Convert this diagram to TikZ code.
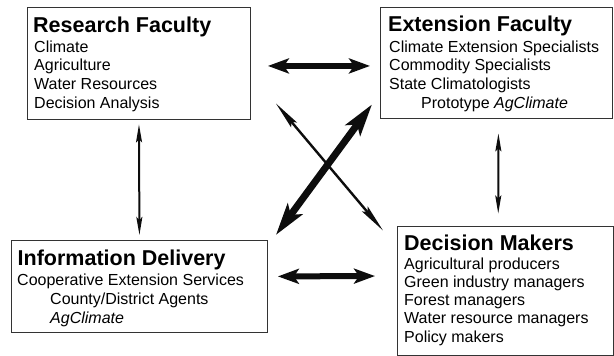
\documentclass[tikz,border=0pt]{standalone}
\usepackage{fontspec}
\setmainfont{Liberation Sans}
\usetikzlibrary{arrows.meta}
\begin{document}
\begin{tikzpicture}[x=1pt,y=-1pt,
  box/.style={draw=black!80, line width=0.9pt, inner sep=0pt, anchor=north west},
  ttl/.style={anchor=base west, inner sep=0pt, font=\fontsize{21.5}{24}\selectfont\bfseries},
  % body text is placed by the baseline of its last line
  txt/.style={anchor=base west, inner sep=0pt, align=left, font=\fontsize{16}{#1}\selectfont},
  txt/.default=18.9,
  bigarrow/.style={line width=6pt, draw=black!95,
    {Stealth[length=21pt,width=15pt,inset=5pt]}-{Stealth[length=21pt,width=15pt,inset=5pt]}},
  diagthick/.style={line width=7pt, draw=black!95,
    {Stealth[length=32pt,width=18pt,inset=7pt]}-{Stealth[length=32pt,width=18pt,inset=7pt]}},
  diagthin/.style={line width=2.4pt, draw=black!95,
    {Stealth[length=28pt,width=7.5pt,inset=4pt]}-{Stealth[length=28pt,width=7.5pt,inset=4pt]}},
  vthin/.style={line width=2pt, draw=black!95,
    {Stealth[length=18pt,width=6pt,inset=3pt]}-{Stealth[length=18pt,width=6pt,inset=3pt]}}
]
\useasboundingbox (0,0) rectangle (614,356);

% boxes
\node[box, minimum width=223pt, minimum height=112pt] (rf) at (27,6.5) {};
\node[box, minimum width=232pt, minimum height=111pt] (ef) at (380,6.5) {};
\node[box, minimum width=256pt, minimum height=92pt] (id) at (11,240) {};
\node[box, minimum width=215.5pt, minimum height=129pt] (dm) at (397,225.5) {};

% Research Faculty
\node[ttl] (rft) at (33,32) {Research Faculty};
\node[txt] (rfb) at (34,108.7) {Climate\\Agriculture\\Water Resources\\Decision Analysis};

% Extension Faculty
\node[ttl] (eft) at (388,31.5) {Extension Faculty};
\node[txt] (efb) at (389,108.7) {Climate Extension Specialists\\Commodity Specialists\\State Climatologists\\\hspace*{32pt}Prototype \textit{AgClimate}};

% Information Delivery
\node[ttl] (idt) at (17.5,265.5) {Information Delivery};
\node[txt=19] (idb) at (17,323) {Cooperative Extension Services\\\hspace*{33pt}County/District Agents\\\hspace*{33pt}\textit{AgClimate}};

% Decision Makers
\node[ttl] (dmt) at (404,250) {Decision Makers};
\node[txt=18.3] (dmb) at (404,342.2) {Agricultural producers\\Green industry managers\\Forest managers\\Water resource managers\\Policy makers};

% connectors
\draw[bigarrow, shorten <=17pt, shorten >=10pt] ([yshift=-3pt]rf.east) -- ([yshift=-3.5pt]ef.west);
\draw[bigarrow, shorten <=10pt, shorten >=22pt] ([yshift=10pt]id.east) -- ([yshift=14.5pt]dm.west);
\draw[vthin, shorten <=5pt, shorten >=5pt] (rf.south) -- (id.north);
\draw[vthin, shorten <=15pt, shorten >=12pt] ([xshift=2pt]ef.south) -- ([xshift=-7pt]dm.north);
\draw[diagthick] ([shift={(8,-5)}]id.north east) -- ([shift={(-8,-14)}]ef.south west);
\draw[diagthin] ([shift={(25,-16)}]rf.south east) -- ([shift={(-14,5)}]dm.north west);
\end{tikzpicture}
\end{document}
